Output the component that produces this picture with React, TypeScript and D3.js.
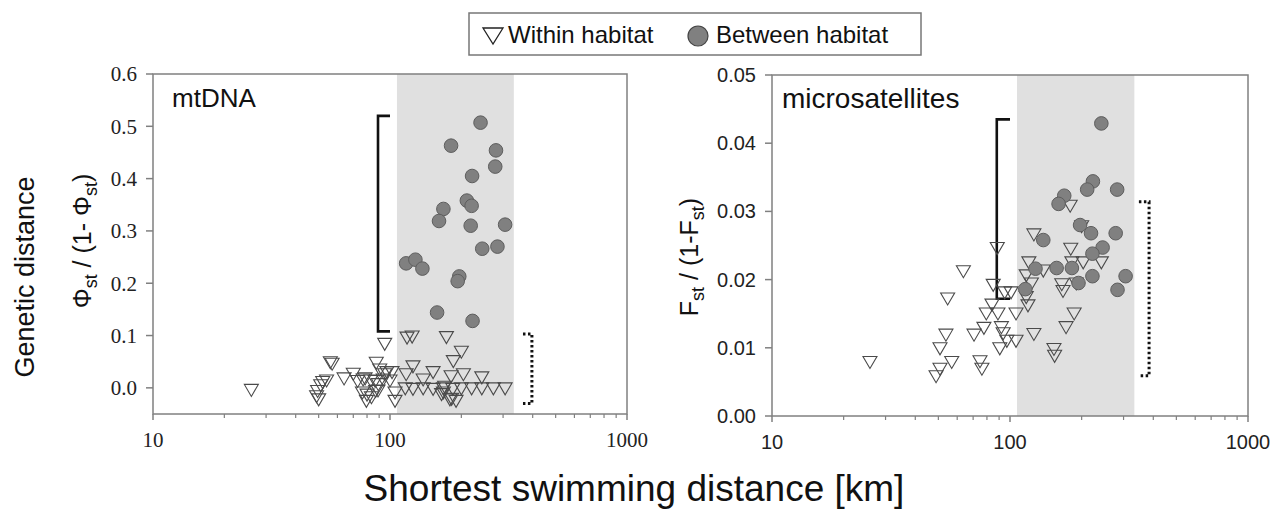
import React from "react";
import * as d3 from "d3";

// ---------- data ----------
const xTicks = [10, 100, 1000];
const minorTicks = [20, 30, 40, 50, 60, 70, 80, 90, 200, 300, 400, 500, 600, 700, 800, 900];
const mtYTicks = [0.0, 0.1, 0.2, 0.3, 0.4, 0.5, 0.6];
const msYTicks = [0.0, 0.01, 0.02, 0.03, 0.04, 0.05];
const shadeRange = [107, 333];

// mtDNA: within habitat [distance km, PhiST/(1-PhiST)]
const mtWithin: [number, number][] = [
  [26, -0.003],
  [49, -0.015], [50, -0.021], [51, 0.006], [52, 0.012], [54, 0.015], [49.5, -0.005],
  [56, 0.050], [57, 0.047],
  [64, 0.019], [70, 0.028],
  [73, 0.014], [77, 0.017], [78.5, 0.019], [83, 0.015],
  [76.5, -0.008], [79.5, -0.024], [83.5, -0.017], [80, -0.012],
  [87.5, 0.049], [90.5, 0.036], [95, 0.085],
  [86.6, 0.014], [89.3, 0.008], [87, -0.005], [89, -0.004],
  [93.6, 0.017], [95, 0.027], [97, 0.031], [100, 0.015], [102, 0.031],
  [105, -0.008], [105, -0.024],
  [118, 0.097], [124, 0.099], [173, 0.098],
  [200, 0.070], [185, 0.052], [125, 0.042],
  [117, 0.027], [138, 0.017], [152, 0.031], [181, 0.023], [204, 0.027], [244, 0.021],
  [116, 0.0], [125, -0.001], [138, 0.0], [152, -0.001], [168, 0.0], [184, -0.001],
  [200, 0.0], [221, 0.0], [244, 0.0], [273, 0.0], [306, 0.0],
  [165, -0.011], [170, 0.003], [179, -0.021], [190, -0.024], [182, -0.02], [168, -0.008],
];
// mtDNA: between habitat
const mtBetween: [number, number][] = [
  [241, 0.507], [181, 0.463], [280, 0.454], [278, 0.423], [222, 0.405],
  [211, 0.358], [221, 0.348], [168, 0.342], [161, 0.319], [219, 0.310],
  [306, 0.312], [245, 0.266], [284, 0.270], [117, 0.238], [128, 0.245],
  [137, 0.228], [196, 0.213], [193, 0.204], [158, 0.144], [223, 0.128],
];
// microsatellites: within habitat [distance km, FST/(1-FST)]
const msWithin: [number, number][] = [
  [25.8, 0.0080],
  [63.7, 0.0213], [54.7, 0.0173], [53.8, 0.0120], [50.8, 0.0100], [50.8, 0.0070], [48.9, 0.0059], [56.9, 0.0080],
  [70.6, 0.0120], [77.7, 0.0130], [79.5, 0.0151], [74.8, 0.0081], [76.2, 0.0070],
  [84, 0.0164], [85, 0.0193], [88.4, 0.0247], [89, 0.0151], [92, 0.0131], [93.6, 0.0122], [97, 0.0111], [90.6, 0.0100],
  [95, 0.0182], [101, 0.0182],
  [106, 0.0151], [106, 0.0111],
  [117, 0.0207], [123, 0.0195], [117, 0.0175], [119, 0.0163], [120, 0.0226], [126, 0.0267], [126, 0.0121], [138, 0.0214],
  [153, 0.0099], [154, 0.0089], [172, 0.0131], [186, 0.0151], [167, 0.0184], [165, 0.0194],
  [182, 0.0226], [203, 0.0226], [242, 0.0226], [180, 0.0246], [190, 0.0195], [179, 0.0309], [200, 0.0279],
];
// microsatellites: between habitat
const msBetween: [number, number][] = [
  [242, 0.0429], [223, 0.0344], [211, 0.0332], [282, 0.0332], [169, 0.0323],
  [160, 0.0311], [197, 0.0280], [219, 0.0268], [278, 0.0268], [138, 0.0258],
  [245, 0.0247], [222, 0.0238], [128, 0.0216], [157, 0.0217], [182, 0.0217],
  [222, 0.0205], [306, 0.0205], [283, 0.0185], [194, 0.0195], [116, 0.0186],
];
// brackets: [x of vertical, x of ends, y top, y bottom]
const mtSolid = [89, 100, 0.52, 0.108];
const mtDotted = [397, 364, 0.103, -0.03];
const msSolid = [88, 100, 0.0435, 0.0172];
const msDotted = [384, 348, 0.0314, 0.0059];

const AX = "#808080";
const SANS = "'Liberation Sans', Arial, sans-serif";
const SERIF = "'Liberation Serif', 'Times New Roman', serif";

function Tri({ x, y }: { x: number; y: number }) {
  return (
    <path
      d={`M${x - 7},${y - 5} L${x + 7},${y - 5} L${x},${y + 7} Z`}
      fill="none"
      stroke="#4a4a4a"
      strokeWidth={1.1}
    />
  );
}

function Panel(props: {
  x0: number; x1: number; y0: number; y1: number;
  yDomain: [number, number]; yTicks: number[]; fmt: (v: number) => string;
  font: string; fontSize: number; within: [number, number][]; between: [number, number][];
  solid: number[]; dotted: number[]; label: string; labelDx: number; labelSize: number;
}) {
  const { x0, x1, y0, y1, yDomain, yTicks, fmt, font, fontSize, within, between, solid, dotted } = props;
  const x = d3.scaleLog().domain([10, 1000]).range([x0, x1]);
  const y = d3.scaleLinear().domain(yDomain).range([y1, y0]);
  const sx = x(solid[0]), sxe = x(solid[1]);
  const dx = x(dotted[0]), dxe = x(dotted[1]);
  return (
    <g>
      <rect x={x(shadeRange[0])} y={y0} width={x(shadeRange[1]) - x(shadeRange[0])} height={y1 - y0} fill="#e0e0e0" />
      <rect x={x0} y={y0} width={x1 - x0} height={y1 - y0} fill="none" stroke={AX} strokeWidth={1.5} />
      {yTicks.map((t) => (
        <g key={t}>
          <line x1={x0 - 7} x2={x0} y1={y(t)} y2={y(t)} stroke={AX} strokeWidth={1.5} />
          <text x={x0 - 16} y={y(t)} dy="0.35em" textAnchor="end" fontFamily={font} fontSize={fontSize} fill="#222">
            {fmt(t)}
          </text>
        </g>
      ))}
      {xTicks.map((t) => (
        <g key={t}>
          <line x1={x(t)} x2={x(t)} y1={y1} y2={y1 + 6} stroke={AX} strokeWidth={1.5} />
          <text x={x(t)} y={y1 + 33} textAnchor="middle" fontFamily={font} fontSize={fontSize} fill="#222">
            {t}
          </text>
        </g>
      ))}
      {minorTicks.map((t) => (
        <line key={t} x1={x(t)} x2={x(t)} y1={y1} y2={y1 + 4} stroke={AX} strokeWidth={1.2} />
      ))}
      <text x={x0 + props.labelDx} y={y0 + 33} fontFamily={SANS} fontSize={props.labelSize} fill="#111">{props.label}</text>
      <path
        d={`M${sxe},${y(solid[2])} L${sx},${y(solid[2])} L${sx},${y(solid[3])} L${sxe},${y(solid[3])}`}
        fill="none" stroke="#111" strokeWidth={2.6}
      />
      <path
        d={`M${dxe},${y(dotted[2])} L${dx},${y(dotted[2])} L${dx},${y(dotted[3])} L${dxe},${y(dotted[3])}`}
        fill="none" stroke="#111" strokeWidth={3} strokeDasharray="2.5,2.5"
      />
      {within.map((d, i) => (
        <Tri key={"w" + i} x={x(d[0])} y={y(d[1])} />
      ))}
      {between.map((d, i) => (
        <circle key={"b" + i} cx={x(d[0])} cy={y(d[1])} r={6.8} fill="#808080" stroke="#5e5e5e" strokeWidth={1} />
      ))}
    </g>
  );
}

export default function App() {
  return (
    <svg width={1271} height={515} style={{ position: "absolute", left: 0, top: 0, background: "#fff" }}>
      {/* legend */}
      <rect x={469} y={13} width={452} height={42} fill="#fff" stroke="#777" strokeWidth={1.5} />
      <path d="M483,28 L503,28 L493,44 Z" fill="none" stroke="#222" strokeWidth={1.3} />
      <text x={508} y={43} fontFamily={SANS} fontSize={24} fill="#111">Within habitat</text>
      <circle cx={698} cy={36} r={10} fill="#808080" stroke="#444" strokeWidth={1.2} />
      <text x={716} y={43} fontFamily={SANS} fontSize={24} fill="#111">Between habitat</text>

      <Panel x0={153} x1={627} y0={74} y1={414} yDomain={[-0.05, 0.6]} yTicks={mtYTicks}
        fmt={d3.format(".1f")} font={SERIF} fontSize={21} within={mtWithin} between={mtBetween}
        solid={mtSolid} dotted={mtDotted} label="mtDNA" labelDx={19} labelSize={26} />
      <Panel x0={772} x1={1248} y0={75} y1={416} yDomain={[0, 0.05]} yTicks={msYTicks}
        fmt={d3.format(".2f")} font={SANS} fontSize={20} within={msWithin} between={msBetween}
        solid={msSolid} dotted={msDotted} label="microsatellites" labelDx={10} labelSize={28} />

      {/* axis titles */}
      <text transform="translate(34,277) rotate(-90)" textAnchor="middle" fontFamily={SANS} fontSize={27} fill="#111">
        Genetic distance
      </text>
      <text transform="translate(91,241) rotate(-90)" textAnchor="middle" fontFamily={SANS} fontSize={25} fill="#111">
        <tspan>Φ</tspan><tspan dy={6} fontSize={18}>st</tspan><tspan dy={-6}> / (1- Φ</tspan>
        <tspan dy={6} fontSize={18}>st</tspan><tspan dy={-6}>)</tspan>
      </text>
      <text transform="translate(698,257) rotate(-90)" textAnchor="middle" fontFamily={SANS} fontSize={25} fill="#111">
        <tspan>F</tspan><tspan dy={6} fontSize={18}>st</tspan><tspan dy={-6}> / (1-F</tspan>
        <tspan dy={6} fontSize={18}>st</tspan><tspan dy={-6}>)</tspan>
      </text>
      <text x={634} y={501} textAnchor="middle" fontFamily={SANS} fontSize={37} fill="#111">
        Shortest swimming distance [km]
      </text>
    </svg>
  );
}
